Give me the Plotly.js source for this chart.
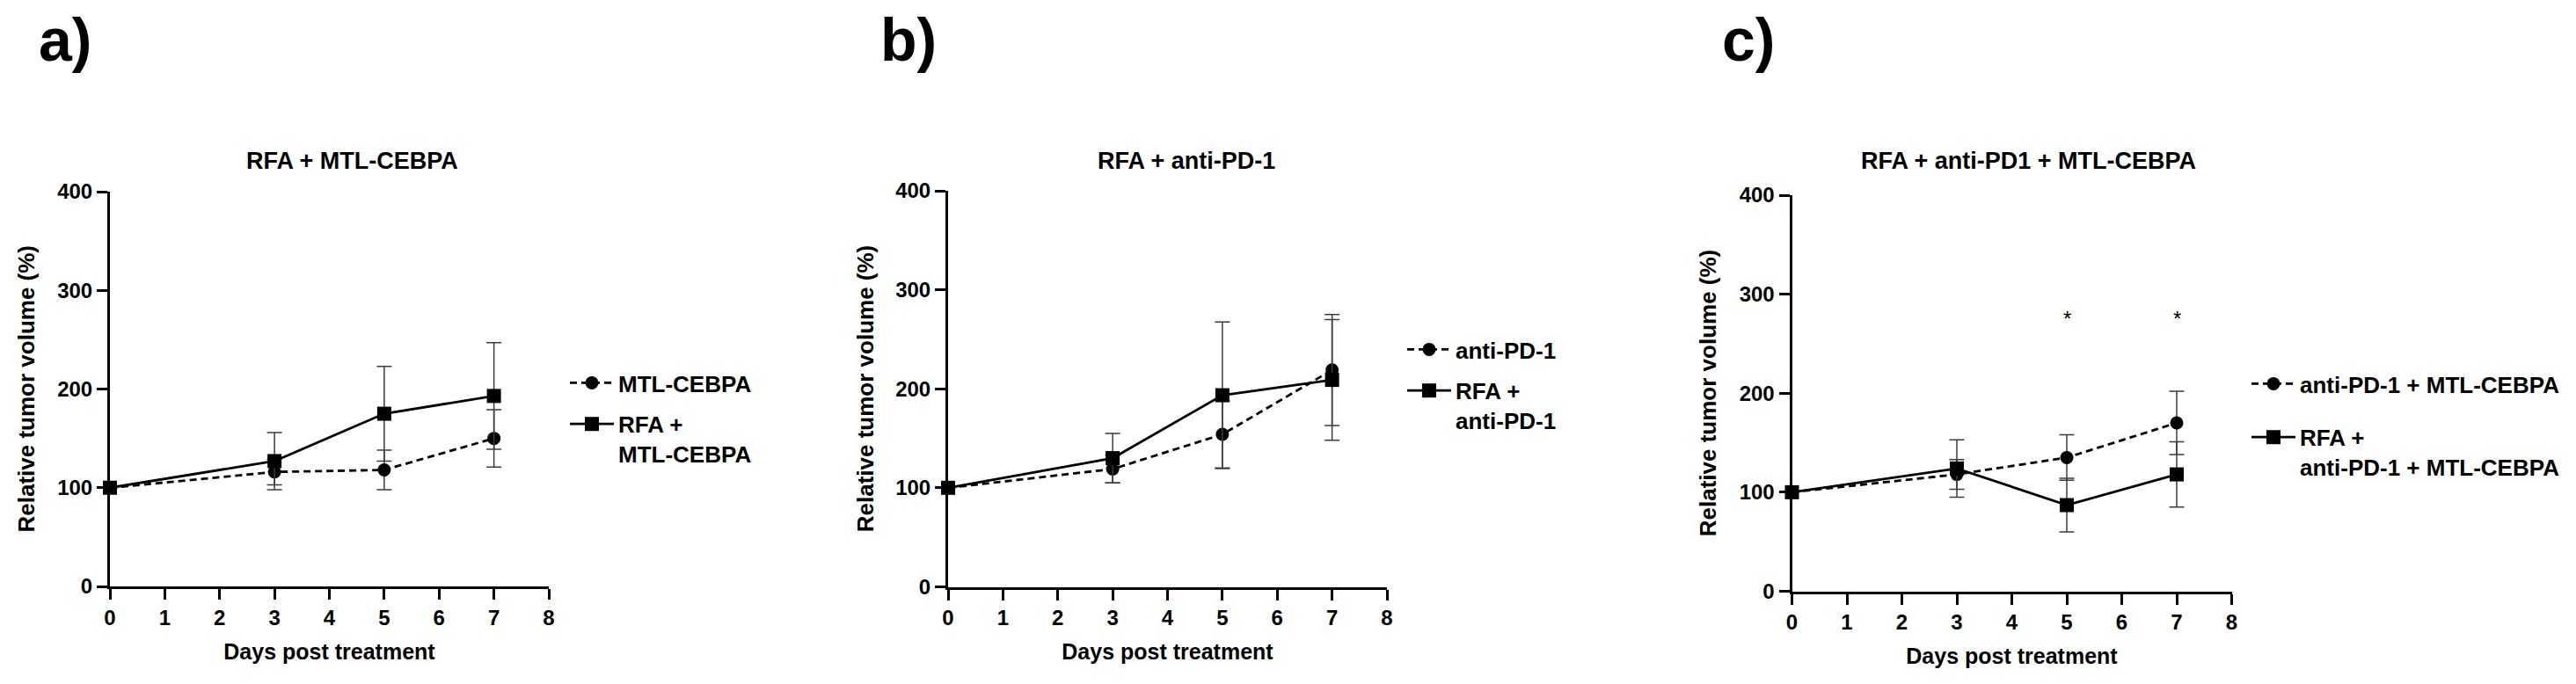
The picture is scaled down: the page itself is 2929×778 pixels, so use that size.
<!DOCTYPE html>
<html>
<head>
<meta charset="utf-8">
<script src="https://cdn.plot.ly/plotly-3.0.1.min.js"></script>
<style>html,body{margin:0;padding:0;background:#fff;}#chart{width:2929px;height:778px;}</style>
</head>
<body>
<div id="chart"></div>
<script>
// ---- data ----
const days = [0, 3, 5, 7];

const aNames = ['MTL-CEBPA', 'RFA +<br>MTL-CEBPA'];
const aMtl = [100, 116, 118, 150];
const aMtlErr = [0, 13, 20, 29];
const aRfa = [100, 127, 175, 193];
const aRfaErr = [0, 29, 48, 54];

const bNames = ['anti-PD-1', 'RFA +<br>anti-PD-1'];
const bPd = [100, 119, 154, 219];
const bPdErr = [0, 14, 34, 56];
const bRfa = [100, 130, 193.5, 209];
const bRfaErr = [0, 25, 74, 61];

const cNames = ['anti-PD-1 + MTL-CEBPA', 'RFA +<br>anti-PD-1 + MTL-CEBPA'];
const cCombo = [100, 118, 135, 170];
const cComboErr = [0, 15, 23, 32];
const cRfa = [100, 124, 87, 118];
const cRfaErr = [0, 29, 27, 33];

const panelTitles = ['RFA + MTL-CEBPA', 'RFA + anti-PD-1', 'RFA + anti-PD1 + MTL-CEBPA'];
const panelLabels = ['a)', 'b)', 'c)'];
const xTitle = 'Days post treatment';
const yTitle = 'Relative tumor volume (%)';
const sigDays = [5, 7];
const sigLevel = [275, 275];
const xTickVals = [0, 1, 2, 3, 4, 5, 6, 7, 8];
const yTickVals = [0, 100, 200, 300, 400];

// ---- style ----
const W = 2929, H = 778;
const FONT = 'Liberation Sans, Arial, Helvetica, sans-serif';
const ERR_COL = '#3c3c3c';

function circleTrace(y, err, name, xa, ya, leg) {
  return {
    x: days, y: y, name: name, type: 'scatter', mode: 'lines+markers',
    xaxis: xa, yaxis: ya, legend: leg, legendgroup: leg + 'c',
    line: {color: '#000', width: 2.8, dash: '8px,5px'},
    marker: {symbol: 'circle', size: 15, color: '#000'},
    error_y: {type: 'data', array: err, visible: true, color: ERR_COL, thickness: 1.5, width: 8.5},
    cliponaxis: false, hoverinfo: 'skip'
  };
}
function squareTrace(y, err, name, xa, ya, leg) {
  return {
    x: days, y: y, name: name, type: 'scatter', mode: 'lines+markers',
    xaxis: xa, yaxis: ya, legend: leg, legendgroup: leg + 's',
    line: {color: '#000', width: 2.8},
    marker: {symbol: 'square', size: 16, color: '#000'},
    error_y: {type: 'data', array: err, visible: true, color: ERR_COL, thickness: 1.5, width: 8.5},
    cliponaxis: false, hoverinfo: 'skip'
  };
}

const data = [
  circleTrace(aMtl, aMtlErr, aNames[0], 'x', 'y', 'legend'),
  squareTrace(aRfa, aRfaErr, aNames[1], 'x', 'y', 'legend'),
  circleTrace(bPd, bPdErr, bNames[0], 'x2', 'y2', 'legend2'),
  squareTrace(bRfa, bRfaErr, bNames[1], 'x2', 'y2', 'legend2'),
  circleTrace(cCombo, cComboErr, cNames[0], 'x3', 'y3', 'legend3'),
  squareTrace(cRfa, cRfaErr, cNames[1], 'x3', 'y3', 'legend3')
];

// pixel geometry of the three panels
const panels = [
  {x0: 125, x1: 624, yTop: 218, yBot: 667, titleX: 400, labelX: 42, yTitleX: 29, legX: 643, legY: 412, gap: 10},
  {x0: 1078, x1: 1577, yTop: 217, yBot: 667.5, titleX: 1349, labelX: 999, yTitleX: 984, legX: 1595, legY: 374, gap: 10},
  {x0: 2037.5, x1: 2537.5, yTop: 222, yBot: 672.5, titleX: 2306, labelX: 1956, yTitleX: 1942, legX: 2555, legY: 413, gap: 24}
];

function xAxis(p, anchor) {
  return {
    domain: [p.x0 / W, p.x1 / W], anchor: anchor, range: [0, 8],
    tickvals: xTickVals, ticks: 'outside', ticklen: 12, tickwidth: 3, tickcolor: '#000',
    showline: true, linewidth: 3, linecolor: '#000', showgrid: false, zeroline: false,
    tickfont: {family: FONT, size: 24, weight: 'bold', color: '#000'},
    title: {text: xTitle, font: {family: FONT, size: 25, weight: 'bold', color: '#000'}, standoff: 18},
    automargin: false, fixedrange: true
  };
}
function yAxis(p, anchor) {
  return {
    domain: [(H - p.yBot) / H, (H - p.yTop) / H], anchor: anchor, range: [0, 400],
    tickvals: yTickVals, ticks: 'outside', ticklen: 12, tickwidth: 3, tickcolor: '#000',
    showline: true, linewidth: 3, linecolor: '#000', showgrid: false, zeroline: false,
    tickfont: {family: FONT, size: 24, weight: 'bold', color: '#000'},
    automargin: false, fixedrange: true
  };
}
function legend(p) {
  return {
    xref: 'container', yref: 'container', x: p.legX / W, y: 1 - p.legY / H,
    xanchor: 'left', yanchor: 'top', bgcolor: 'rgba(0,0,0,0)', borderwidth: 0,
    font: {family: FONT, size: 26, weight: 'bold', color: '#000'},
    valign: 'top', traceorder: 'grouped', tracegroupgap: p.gap, itemwidth: 50
  };
}

const annotations = [];
panels.forEach((p, i) => {
  annotations.push({
    xref: 'paper', yref: 'paper', x: p.titleX / W, y: 1 - 183 / H, xanchor: 'center', yanchor: 'middle',
    text: panelTitles[i], showarrow: false, font: {family: FONT, size: 27, weight: 'bold', color: '#000'}
  });
  annotations.push({
    xref: 'paper', yref: 'paper', x: p.labelX / W, y: 1 - 45 / H, xanchor: 'left', yanchor: 'middle',
    text: panelLabels[i], showarrow: false, font: {family: FONT, size: 68, weight: 'bold', color: '#000'}
  });
  annotations.push({
    xref: 'paper', yref: 'paper', x: p.yTitleX / W, y: 1 - (p.yTop + p.yBot) / 2 / H,
    xanchor: 'center', yanchor: 'middle', textangle: -90,
    text: yTitle, showarrow: false, font: {family: FONT, size: 26, weight: 'bold', color: '#000'}
  });
});
sigDays.forEach((d, i) => {
  annotations.push({
    xref: 'x3', yref: 'y3', x: d, y: sigLevel[i], text: '*', showarrow: false,
    xanchor: 'center', yanchor: 'middle',
    font: {family: FONT, size: 24, color: '#000'}
  });
});

const layout = {
  width: W, height: H, margin: {l: 0, r: 0, t: 0, b: 0, autoexpand: false},
  paper_bgcolor: '#fff', plot_bgcolor: 'rgba(0,0,0,0)',
  showlegend: true,
  xaxis: xAxis(panels[0], 'y'), yaxis: yAxis(panels[0], 'x'),
  xaxis2: xAxis(panels[1], 'y2'), yaxis2: yAxis(panels[1], 'x2'),
  xaxis3: xAxis(panels[2], 'y3'), yaxis3: yAxis(panels[2], 'x3'),
  legend: legend(panels[0]), legend2: legend(panels[1]), legend3: legend(panels[2]),
  annotations: annotations
};

Plotly.newPlot('chart', data, layout, {staticPlot: true, displayModeBar: false});
</script>
</body>
</html>
